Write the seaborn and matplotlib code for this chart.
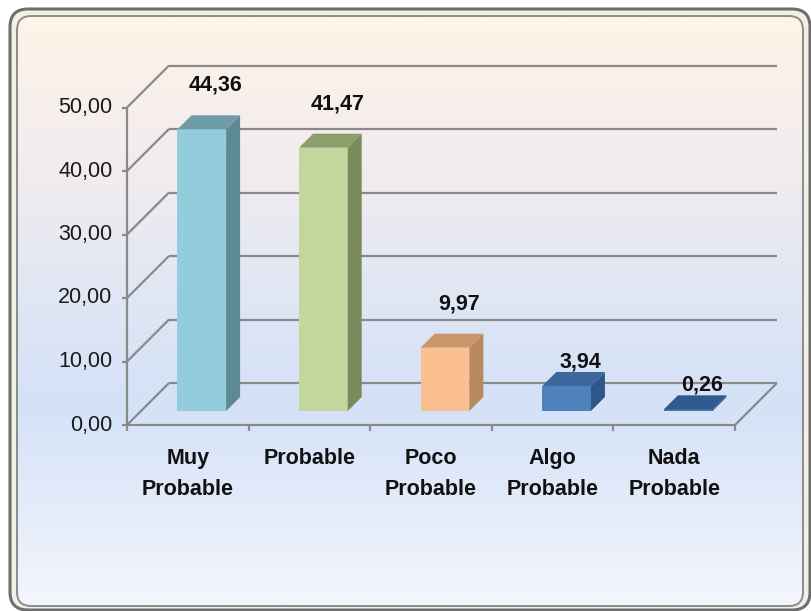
import numpy as np
import matplotlib
matplotlib.use('Agg')
import matplotlib.pyplot as plt
from matplotlib.patches import Polygon, FancyBboxPatch
from matplotlib.colors import LinearSegmentedColormap
import seaborn as sns

# --- data ---
categories = ['Muy\nProbable', 'Probable', 'Poco\nProbable', 'Algo\nProbable', 'Nada\nProbable']
values = [44.36, 41.47, 9.97, 3.94, 0.26]
y_ticks = [0, 10, 20, 30, 40, 50]

front_colors = ['#93CDDD', '#C3D69B', '#FAC090', '#4F81BD', '#4A76AD']
side_colors = ['#5E8994', '#7B8C5C', '#B8895F', '#2F5689', '#2E5487']
top_colors = ['#6F9BA7', '#8C9E69', '#C99669', '#3C679C', '#305A8F']


def fmt(v):
    return f"{v:.2f}".replace('.', ',')


sns.set_style("white")
plt.rcParams['font.family'] = ['Liberation Sans Narrow', 'Liberation Sans', 'DejaVu Sans']

W, H = 812, 611
fig = plt.figure(figsize=(W / 100, H / 100), dpi=100)

# --- background frame in pixel coordinates ---
bg = fig.add_axes([0, 0, 1, 1])
bg.set_xlim(0, W)
bg.set_ylim(H, 0)
bg.axis('off')

outer = FancyBboxPatch((10, 9), 800, 601, boxstyle="round,pad=0,rounding_size=18",
                       facecolor='#F4EFE6', edgecolor='#6E6E6E', linewidth=2.2)
bg.add_patch(outer)
inner = FancyBboxPatch((17, 16), 786, 590, boxstyle="round,pad=0,rounding_size=14",
                       facecolor='none', edgecolor='#8C8C8C', linewidth=1.4, zorder=3)
bg.add_patch(inner)

grad_cmap = LinearSegmentedColormap.from_list(
    'bg', [(0.0, '#FEF4E6'), (0.22, '#F4EDEE'), (0.5, '#DEE6F5'),
           (0.66, '#D4E1F7'), (1.0, '#F3F6FC')])
grad = np.linspace(0, 1, 300).reshape(-1, 1)
img = bg.imshow(grad, cmap=grad_cmap, extent=(17, 803, 606, 16), aspect='auto', zorder=2)
img.set_clip_path(inner)

# --- chart axes, mapped so one category = 121.6 px and 10 units = 63.5 px ---
ax = fig.add_axes([0, 0, 1, 1])
ax.patch.set_alpha(0)

DX = 42 / 121.6   # depth offset in category units
DY = 42 / 6.35    # depth offset in value units
bdx, bdy = DX / 3, DY / 3   # bars sit in the middle third of the depth

grid_kw = dict(color='#8A8A8A', linewidth=1.6, zorder=1, solid_capstyle='butt')
for t in y_ticks:
    ax.plot([-0.5, -0.5 + DX], [t, t + DY], **grid_kw)
    ax.plot([-0.5 + DX, 4.5 + DX], [t + DY, t + DY], **grid_kw)
    ax.plot([-0.5 - 0.045, -0.5], [t, t], **grid_kw)
    ax.text(-0.5 - 0.12, t, fmt(t), ha='right', va='center', fontsize=15.5, color='#1A1A1A')
ax.plot([-0.5, 4.5], [0, 0], **grid_kw)
ax.plot([4.5, 4.5 + DX], [0, DY], **grid_kw)
ax.plot([-0.5, -0.5], [0, y_ticks[-1]], **grid_kw)
for k in range(len(categories) + 1):
    ax.plot([k - 0.5, k - 0.5], [0, -0.9], **grid_kw)

sns.barplot(x=categories, y=values, hue=categories, palette=front_colors, saturation=1,
            width=0.4, legend=False, ax=ax, zorder=3, linewidth=0)

bars = sorted(ax.patches, key=lambda p: p.get_x())
for i, (p, v) in enumerate(zip(bars, values)):
    x0 = p.get_x() + bdx
    x1 = x0 + p.get_width()
    p.set_x(x0)
    p.set_y(bdy)
    top = bdy + v
    ax.add_patch(Polygon([(x1, bdy), (x1, top), (x1 + bdx, top + bdy), (x1 + bdx, 2 * bdy)],
                         closed=True, facecolor=side_colors[i], edgecolor='none', zorder=3))
    ax.add_patch(Polygon([(x0, top), (x1, top), (x1 + bdx, top + bdy), (x0 + bdx, top + bdy)],
                         closed=True, facecolor=top_colors[i], edgecolor='none', zorder=4))
    off = 44 / 6.35 if v >= 5 else 24 / 6.35
    ax.text(i + 0.23, top + off, fmt(v), ha='center', va='center',
            fontsize=15.5, fontweight='bold', color='#111111', zorder=5)
    ax.text(i, -23 / 6.35, categories[i], ha='center', va='top', fontsize=15.5,
            fontweight='bold', color='#111111', linespacing=1.65)

ax.set_xlim(-0.5 - 127 / 121.6, -0.5 + (W - 127) / 121.6)
ax.set_ylim((425 - H) / 6.35, 425 / 6.35)
ax.axis('off')

fig.savefig('out.png', dpi=100)
